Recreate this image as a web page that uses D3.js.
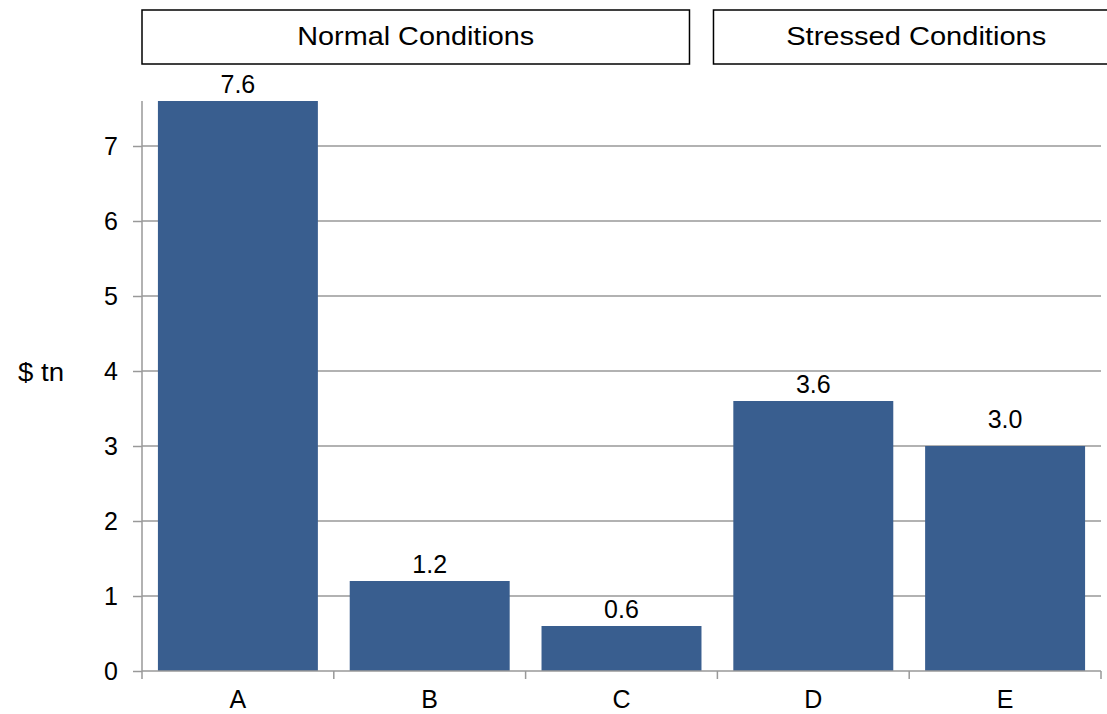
<!DOCTYPE html>
<html>
<head>
<meta charset="utf-8">
<script src="https://cdn.jsdelivr.net/npm/d3@7"></script>
<style>
  html, body { margin: 0; padding: 0; background: #fff; }
  svg { display: block; font-family: "Liberation Sans", Arial, sans-serif; }
</style>
</head>
<body>
<svg id="chart" width="1107" height="714"></svg>
<script>
const categories = ["A", "B", "C", "D", "E"];
const values = [7.6, 1.2, 0.6, 3.6, 3.0];
const valueLabels = ["7.6", "1.2", "0.6", "3.6", "3.0"];
const yTicks = [0, 1, 2, 3, 4, 5, 6, 7];
const groupNames = ["Normal Conditions", "Stressed Conditions"];
const groupEnds = ["C", "E"];
const yLabel = "$ tn";

const svg = d3.select("#chart");
const W = 1107, H = 714;
const m = { left: 142, right: 6, top: 101, bottom: 43 };
const FS = 25;

const x = d3.scaleBand().domain(categories)
  .range([m.left, W - m.right])
  .paddingInner(0.166).paddingOuter(0.083);
const y = d3.scaleLinear().domain([0, 7.6]).range([H - m.bottom, m.top]);

const gridColor = "#999999";
const barColor = "#395e8f";

// gridlines
svg.append("g").selectAll("line").data(yTicks.filter(d => d > 0)).join("line")
  .attr("x1", m.left).attr("x2", W - m.right)
  .attr("y1", d => y(d)).attr("y2", d => y(d))
  .attr("stroke", gridColor).attr("stroke-width", 1.5);

// y axis
const yAxis = svg.append("g").attr("transform", `translate(${m.left},0)`)
  .call(d3.axisLeft(y).tickValues(yTicks).tickFormat(d3.format("d")).tickSize(9).tickPadding(15));
yAxis.select(".domain").attr("stroke", gridColor).attr("stroke-width", 1.5)
  .attr("d", `M0,${m.top}V${y(0)}`);
yAxis.selectAll(".tick line").attr("stroke", gridColor).attr("stroke-width", 1.5);
yAxis.selectAll(".tick text").attr("font-size", FS).attr("fill", "#000")
  .attr("font-family", "Liberation Sans, Arial, sans-serif");

// bars
svg.append("g").selectAll("rect").data(categories).join("rect")
  .attr("x", d => x(d)).attr("width", x.bandwidth())
  .attr("y", (d, i) => y(values[i]))
  .attr("height", (d, i) => y(0) - y(values[i]))
  .attr("fill", barColor);

// x axis
const step = x.step();
const bounds = categories.map(c => x(c) - x.paddingOuter() * step).concat([W - m.right]);
const xg = svg.append("g");
xg.append("line").attr("x1", m.left).attr("x2", W - m.right)
  .attr("y1", y(0)).attr("y2", y(0)).attr("stroke", gridColor).attr("stroke-width", 1.5);
xg.selectAll("line.t").data(bounds).join("line").attr("class", "t")
  .attr("x1", d => d).attr("x2", d => d)
  .attr("y1", y(0)).attr("y2", y(0) + 8)
  .attr("stroke", gridColor).attr("stroke-width", 1.5);
xg.selectAll("text").data(categories).join("text")
  .attr("x", d => x(d) + x.bandwidth() / 2).attr("y", y(0) + 37)
  .attr("text-anchor", "middle").attr("font-size", FS).attr("fill", "#000")
  .text(d => d);

// value labels
svg.append("g").selectAll("text").data(categories).join("text")
  .attr("x", d => x(d) + x.bandwidth() / 2)
  .attr("y", (d, i) => y(values[i]) - (Number.isInteger(values[i]) ? 18 : 8))
  .attr("text-anchor", "middle").attr("font-size", FS).attr("fill", "#000")
  .text((d, i) => valueLabels[i]);

// y label
svg.append("text").attr("x", 18).attr("y", 381)
  .attr("font-size", FS).attr("fill", "#000")
  .attr("textLength", 46).attr("lengthAdjust", "spacingAndGlyphs")
  .text(yLabel);

// header boxes
const gap = 12;
const boxes = groupNames.map((name, i) => {
  let x0, x1;
  if (i === 0) {
    x0 = m.left;
    x1 = x(groupEnds[i]) + x.bandwidth() - gap;
  } else {
    x0 = x(groupEnds[i - 1]) + x.bandwidth() + gap;
    x1 = W - m.right + 18;
  }
  return { name, x0, x1 };
});
const hg = svg.append("g");
hg.selectAll("rect").data(boxes).join("rect")
  .attr("x", d => d.x0).attr("y", 10)
  .attr("width", d => d.x1 - d.x0).attr("height", 54)
  .attr("fill", "#fff").attr("stroke", "#000").attr("stroke-width", 1.5);
hg.selectAll("text").data(boxes).join("text")
  .attr("x", d => (d.x0 + d.x1) / 2).attr("y", 45)
  .attr("text-anchor", "middle").attr("font-size", FS).attr("fill", "#000")
  .attr("textLength", (d, i) => i === 0 ? 237 : 260)
  .attr("lengthAdjust", "spacingAndGlyphs")
  .text(d => d.name);
</script>
</body>
</html>
